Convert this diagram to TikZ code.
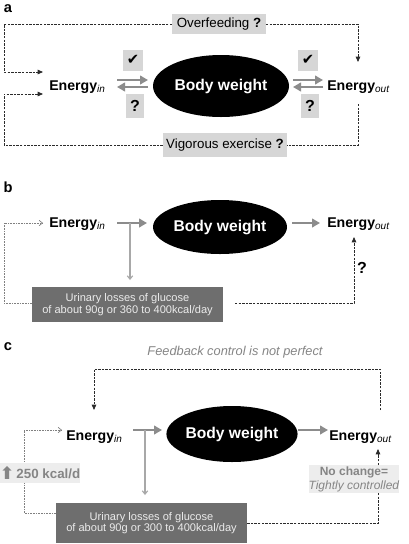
\documentclass[tikz,border=0pt]{standalone}
\usepackage{fontspec}
\setmainfont{Liberation Sans}
\newfontfamily\dejavu{DejaVu Sans}
\usetikzlibrary{arrows.meta,shapes.geometric}
\definecolor{garrow}{HTML}{8C8C8C}
\definecolor{qfill}{HTML}{D6D6D6}
\definecolor{lfill}{HTML}{EDEDED}
\definecolor{ufill}{HTML}{6E6E6E}
\definecolor{dline}{HTML}{2B2B2B}
\definecolor{gtext}{HTML}{858585}
\definecolor{thinc}{HTML}{A8A8A8}
\newcommand{\EnIn}{{\fontsize{10.6}{12}\selectfont\bfseries Energy}{\fontsize{7.5}{9}\selectfont\itshape\raisebox{-2.2pt}{in}}}
\newcommand{\EnOut}{{\fontsize{10.6}{12}\selectfont\bfseries Energy}{\fontsize{7.5}{9}\selectfont\itshape\raisebox{-2.2pt}{out}}}
\tikzset{
  lbl/.style={font=\fontsize{11}{13}\selectfont\bfseries, inner sep=0},
  bw/.style={ellipse, fill=black, text=white, font=\fontsize{11.7}{14}\selectfont\bfseries, inner sep=0},
  en/.style={inner sep=0, anchor=base west},
  qbox/.style={fill=qfill, inner sep=0},
  ubox/.style={fill=ufill, text=white!92!black, inner sep=0, align=center, font=\fontsize{8.3}{8.6}\selectfont},
  garr/.style={draw=garrow, line width=2pt, -{Triangle[length=6pt,width=6.5pt]}},
  dsh/.style={draw=dline, line width=0.6pt, dash pattern=on 1.8pt off 0.9pt},
  dsharr/.style={dsh, -{Triangle[length=4pt,width=3.4pt]}},
  dotl/.style={draw=gray, line width=0.5pt, dash pattern=on 0.6pt off 0.6pt},
  dotarr/.style={dotl, -{Straight Barb[length=2.5pt,width=4pt]}},
  thinarr/.style={draw=thinc, line width=0.8pt, -{Straight Barb[length=2.5pt,width=4pt]}},
  ckbox/.style={qbox, minimum width=15pt, minimum height=15.75pt, font=\dejavu\fontsize{11}{12}\selectfont},
  qmbox/.style={qbox, minimum width=13pt, minimum height=18pt, font=\fontsize{12}{13}\selectfont\bfseries},
}
\begin{document}
\begin{tikzpicture}[x=0.75pt,y=-0.75pt]
\fill[white] (0,0) rectangle (408,544);
\useasboundingbox (0,0) rectangle (408,544);
% ---------------- panel a
\node[lbl] (la) at (8,9) {a};
\node[qbox, minimum width=70pt, minimum height=15pt, font=\fontsize{10}{12}\selectfont] (over) at (219,24) {Overfeeding \textbf{?}};
\node[qbox, minimum width=93pt, minimum height=18pt, font=\fontsize{10}{12}\selectfont] (vig) at (225,145) {Vigorous exercise \textbf{?}};
\node[en] (einA) at (49,90) {\EnIn};
\node[en] (eoutA) at (327,90) {\EnOut};
\node[bw, minimum width=102pt, minimum height=46.5pt] (bwA) at (221,86) {Body weight};
\node[ckbox] (ckL) at (133,60) {✔};
\node[qmbox] (qL) at (135,106) {?};
\node[ckbox] (ckR) at (308,60) {✔};
\node[qmbox] (qR) at (310,106) {?};
\coordinate (a1) at (117,80); \coordinate (a2) at (148,80);
\coordinate (a3) at (148,87); \coordinate (a4) at (117,87);
\coordinate (a5) at (293,80); \coordinate (a6) at (323,80);
\coordinate (a7) at (323,87); \coordinate (a8) at (293,87);
\draw[garr] (a1) -- (a2);
\draw[garr] (a3) -- (a4);
\draw[garr] (a5) -- (a6);
\draw[garr] (a7) -- (a8);
\coordinate (tl) at (4,24); \coordinate (tin) at (43,72);
\coordinate (tr) at (358,24); \coordinate (tout) at (358,62);
\coordinate (bs) at (358,104); \coordinate (br) at (358,145);
\coordinate (bl) at (4,145); \coordinate (bin) at (43,94);
\draw[dsharr] (over.west) -- (tl) |- (tin);
\draw[dsharr] (over.east) -- (tr) -- (tout);
\draw[dsh] (bs) -- (br) -- (vig.east);
\draw[dsharr] (vig.west) -- (bl) |- (bin);
% ---------------- panel b
\node[lbl] (lb) at (8,187) {b};
\node[en] (einB) at (49,227) {\EnIn};
\node[en] (eoutB) at (327,227) {\EnOut};
\node[bw, minimum width=100.5pt, minimum height=40.5pt] (bwB) at (220,227) {Body weight};
\node[ubox, minimum width=143pt, minimum height=26pt] (uB) at (127.5,304.5) {Urinary losses of glucose\\of about 90g or 360 to 400kcal/day};
\node[font=\fontsize{12}{13}\selectfont\bfseries, inner sep=0] (qB) at (362,268) {?};
\coordinate (b1) at (117,223); \coordinate (b2) at (147,223);
\coordinate (b3) at (292,223); \coordinate (b4) at (320,223);
\draw[garr] (b1) -- (b2);
\draw[garr] (b3) -- (b4);
\coordinate (b5) at (130,223); \coordinate (b6) at (130,280);
\draw[thinarr] (b5) -- (b6);
\coordinate (bl1) at (4,303); \coordinate (bl2) at (43,223);
\draw[dotarr] (uB.west |- bl1) -- (bl1) |- (bl2);
\coordinate (br1) at (235,303); \coordinate (br2) at (354,303); \coordinate (br3) at (354,237);
\draw[dsharr] (br1) -- (br2) -- (br3);
% ---------------- panel c
\node[lbl] (lc) at (8,347) {c};
\node[font=\fontsize{9.6}{11}\selectfont\itshape, text=gtext, inner sep=0] (fb) at (235,352) {Feedback control is not perfect};
\node[en] (einC) at (66,440) {\EnIn};
\node[en] (eoutC) at (329,440) {\EnOut};
\node[bw, minimum width=94.5pt, minimum height=42pt] (bwC) at (232,434) {Body weight};
\node[ubox, minimum width=143pt, minimum height=30pt] (uC) at (151.5,523) {Urinary losses of glucose\\of about 90g or 300 to 400kcal/day};
\coordinate (c1) at (133,430); \coordinate (c2) at (162,430);
\coordinate (c3) at (298,430); \coordinate (c4) at (328,430);
\draw[garr] (c1) -- (c2);
\draw[garr] (c3) -- (c4);
\coordinate (c5) at (145,430); \coordinate (c6) at (145,495);
\draw[thinarr] (c5) -- (c6);
\coordinate (cl1) at (24,513); \coordinate (cl2) at (62,430);
\draw[dotarr] (uC.west |- cl1) -- (cl1) |- (cl2);
\node[fill=lfill, minimum width=56pt, minimum height=15pt, inner sep=0, text=gtext, font=\fontsize{10}{12}\selectfont\bfseries] (kc) at (40,473) {{\dejavu\fontsize{13}{13}\selectfont\raisebox{-0.5pt}{⬆}}\,250 kcal/d};
\coordinate (ct1) at (380,410); \coordinate (ct2) at (380,369);
\coordinate (ct3) at (94,369); \coordinate (ct4) at (94,410);
\draw[dsharr] (ct1) -- (ct2) -- (ct3) -- (ct4);
\node[fill=lfill, minimum width=66pt, minimum height=21pt, inner sep=0, text=gtext, align=center, font=\fontsize{9}{10.5}\selectfont] (nc) at (354,479) {\textbf{No change=}\\\textit{Tightly controlled}};
\coordinate (cu1) at (378,465); \coordinate (cu2) at (378,449);
\draw[dsharr] (cu1) -- (cu2);
\coordinate (cd1) at (378,493); \coordinate (cd2) at (378,523);
\draw[dsh] (cd1) -- (cd2) -- (uC.east);
\end{tikzpicture}
\end{document}
